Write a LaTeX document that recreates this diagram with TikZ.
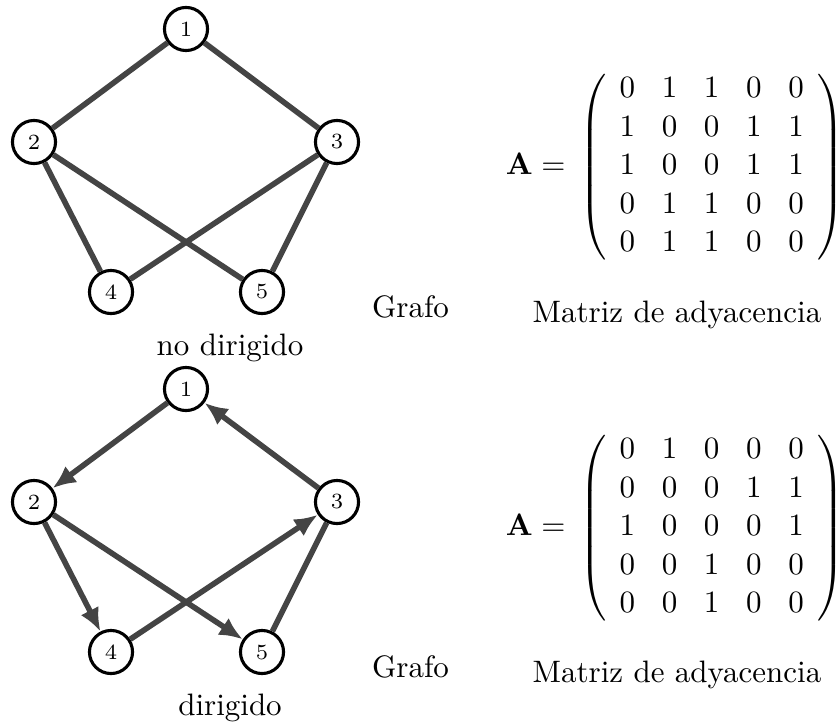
\documentclass[tikz,border=0pt]{standalone}
\usetikzlibrary{arrows.meta}
\definecolor{edgegray}{RGB}{68,68,68}
\begin{document}
\begin{tikzpicture}[x=0.3226pt,y=-0.3226pt,
  vtx/.style={circle,draw=black,line width=1pt,minimum size=13.9pt,inner sep=0pt,font=\scriptsize,fill=white},
  edge/.style={draw=edgegray,line width=1.8pt},
  arc/.style={edge,-{Latex[length=7.5pt,width=6.5pt]}},
  lbl/.style={anchor=base,inner sep=0pt},
  mat/.style={inner sep=0pt}]
\useasboundingbox (0,0) rectangle (840,724);
% undirected graph
\node[vtx] (a1) at (186,29) {1};
\node[vtx] (a2) at (34,142) {2};
\node[vtx] (a3) at (337,142) {3};
\node[vtx] (a4) at (111,292) {4};
\node[vtx] (a5) at (262,292) {5};
\draw[edge] (a1) -- (a2);
\draw[edge] (a1) -- (a3);
\draw[edge] (a2) -- (a4);
\draw[edge] (a2) -- (a5);
\draw[edge] (a3) -- (a4);
\draw[edge] (a3) -- (a5);
% directed graph
\node[vtx] (b1) at (186,389) {1};
\node[vtx] (b2) at (34,502) {2};
\node[vtx] (b3) at (337,502) {3};
\node[vtx] (b4) at (111,652) {4};
\node[vtx] (b5) at (262,652) {5};
\draw[arc] (b1) -- (b2);
\draw[arc] (b3) -- (b1);
\draw[arc] (b2) -- (b4);
\draw[arc] (b2) -- (b5);
\draw[arc] (b4) -- (b3);
\draw[edge] (b3) -- (b5);
% labels
\node[lbl] (g1) at (410.5,317) {Grafo};
\node[lbl] (n1) at (230,355) {no dirigido};
\node[lbl] (m1) at (677,322) {Matriz de adyacencia};
\node[lbl] (g2) at (410.5,677) {Grafo};
\node[lbl] (n2) at (230,715) {dirigido};
\node[lbl] (m2) at (677,682) {Matriz de adyacencia};
% matrices
\node[mat] (A1) at (675,167) {\arraycolsep=4.3pt\renewcommand{\arraystretch}{1.035}$\mathbf{A} =\, \left(\begin{array}{ccccc}
0&1&1&0&0\\ 1&0&0&1&1\\ 1&0&0&1&1\\ 0&1&1&0&0\\ 0&1&1&0&0 \end{array}\right)$};
\node[mat] (A2) at (675,528) {\arraycolsep=4.3pt\renewcommand{\arraystretch}{1.035}$\mathbf{A} =\, \left(\begin{array}{ccccc}
0&1&0&0&0\\ 0&0&0&1&1\\ 1&0&0&0&1\\ 0&0&1&0&0\\ 0&0&1&0&0 \end{array}\right)$};
\end{tikzpicture}
\end{document}
